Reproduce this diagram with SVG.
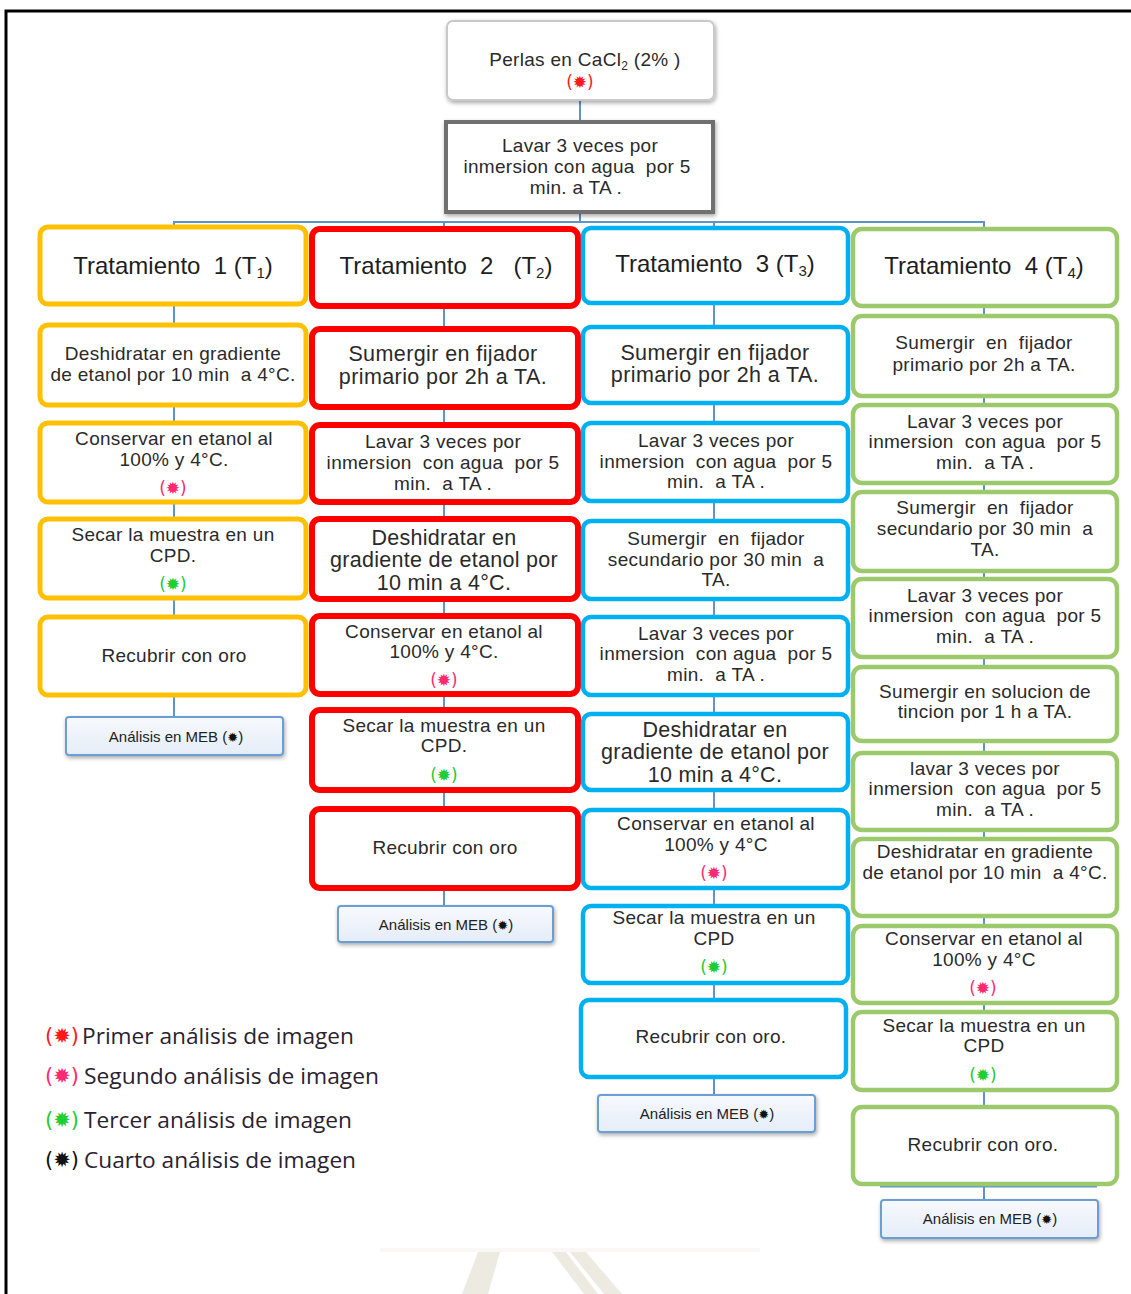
<svg xmlns="http://www.w3.org/2000/svg" width="1131" height="1294" viewBox="0 0 1131 1294">
<defs>
<filter id="sh" x="-10%" y="-10%" width="125%" height="140%">
<feGaussianBlur in="SourceAlpha" stdDeviation="2"/>
<feOffset dx="1" dy="2" result="b"/>
<feComponentTransfer><feFuncA type="linear" slope="0.35"/></feComponentTransfer>
<feMerge><feMergeNode/><feMergeNode in="SourceGraphic"/></feMerge>
</filter>
<linearGradient id="meb" x1="0" y1="0" x2="0" y2="1">
<stop offset="0" stop-color="#f7f9fd"/>
<stop offset="1" stop-color="#e5edf8"/>
</linearGradient>
</defs>
<style>
text{font-family:"Liberation Sans",Arial,sans-serif;fill:#2a2a2a;text-anchor:middle;white-space:pre}
.f18{font-size:19px;letter-spacing:0.3px}
.f21{font-size:21.5px;letter-spacing:0.4px}
.f22{font-size:21.5px;letter-spacing:0.3px}
.tt{font-size:24px;fill:#1e1e1e}
.meb{font-size:15px;fill:#222}
.ast{font-size:17px;font-family:"DejaVu Sans",sans-serif}
.r{fill:#ff1a1a}.p{fill:#ff2a70}.g{fill:#22cc33}.k{fill:#111}
.lg{font-family:"Open Sans","DejaVu Sans",sans-serif;font-size:21px;text-anchor:start;fill:#2a2230}
.la{font-family:"DejaVu Sans",sans-serif;font-size:21px;text-anchor:start}
.c1{fill:#fff;stroke:#ffc000;stroke-width:5}
.c2{fill:#fff;stroke:#ff0000;stroke-width:6}
.c3{fill:#fff;stroke:#00b0f0;stroke-width:4.5}
.c4{fill:#fff;stroke:#9dc96d;stroke-width:4.5}
.mb{fill:url(#meb);stroke:#6b9fd6;stroke-width:2}
.cn{fill:none;stroke:#5f93c9;stroke-width:2}
</style>
<rect width="1131" height="1294" fill="#fff"/>
<path d="M6,1294 V11 H1131" fill="none" stroke="#000" stroke-width="3"/>
<g opacity="0.5">
<rect x="380" y="1248" width="380" height="4" fill="#f4f3ef"/>
<polygon points="478,1252 500,1252 488,1294 462,1294" fill="#dcd6c4"/>
<polygon points="552,1252 566,1252 598,1294 584,1294" fill="#dcd6c4"/>
<polygon points="570,1252 586,1252 622,1294 604,1294" fill="#dcd6c4"/>
</g>
<g id="connectors" class="cn">
<path d="M580,100 V222"/>
<path d="M173,222 H985"/>
<path d="M174,222 V717"/>
<path d="M444,222 V906"/>
<path d="M714,222 V1095"/>
<path d="M984,222 V1200"/>
<path d="M880,1186 H1097" stroke-width="3"/>
</g>
<g id="perlas">
<rect x="447" y="21" width="267" height="79" rx="6" fill="#fff" stroke="#c9c9c9" stroke-width="2" filter="url(#sh)"/>
<text class="f18" x="585" y="66">Perlas en CaCl<tspan font-size="12" dy="4">2</tspan><tspan dy="-4"> (2% )</tspan></text>
<text class="ast r" x="580" y="88">(✹)</text>
</g>
<g id="lavar0">
<rect x="446" y="122" width="267" height="90" fill="#fff" stroke="#707070" stroke-width="4" filter="url(#sh)"/>
<text class="f18" x="580" y="152">Lavar 3 veces por</text>
<text class="f18" x="577" y="173">inmersion con agua  por 5</text>
<text class="f18" x="576" y="194">min. a TA .</text>
</g>
<g id="t1">
<rect class="c1" x="40" y="227" width="266" height="77" rx="8"/>
<text class="tt" x="173" y="274">Tratamiento  1 (T<tspan font-size="15" dy="4">1</tspan><tspan dy="-4">)</tspan></text>
</g>
<g id="t1a">
<rect class="c1" x="40" y="325" width="266" height="80" rx="8"/>
<text class="f18" x="173" y="360">Deshidratar en gradiente</text>
<text class="f18" x="173" y="381">de etanol por 10 min  a 4°C.</text>
</g>
<g id="t1b">
<rect class="c1" x="40" y="423" width="266" height="79" rx="8"/>
<text class="f18" x="174" y="445">Conservar en etanol al</text>
<text class="f18" x="174" y="466">100% y 4°C.</text>
<text class="ast p" x="173" y="494">(✹)</text>
</g>
<g id="t1c">
<rect class="c1" x="40" y="519" width="266" height="79" rx="8"/>
<text class="f18" x="173" y="541">Secar la muestra en un</text>
<text class="f18" x="173" y="562">CPD.</text>
<text class="ast g" x="173" y="590">(✹)</text>
</g>
<g id="t1d">
<rect class="c1" x="40" y="617" width="266" height="78" rx="8"/>
<text class="f18" x="174" y="662">Recubrir con oro</text>
</g>
<g id="t1m">
<rect class="mb" x="66" y="717" width="217" height="38" rx="3" filter="url(#sh)"/>
<text class="meb" x="176" y="742">Análisis en MEB (<tspan class="k" font-family="DejaVu Sans" font-size="13">✹</tspan>)</text>
</g>
<g id="t2">
<rect class="c2" x="312" y="229" width="266" height="77" rx="8"/>
<text class="tt" x="446" y="274">Tratamiento  2   (T<tspan font-size="15" dy="4">2</tspan><tspan dy="-4">)</tspan></text>
</g>
<g id="t2a">
<rect class="c2" x="312" y="329" width="266" height="78" rx="8"/>
<text class="f21" x="443" y="361">Sumergir en fijador</text>
<text class="f21" x="443" y="384">primario por 2h a TA.</text>
</g>
<g id="t2b">
<rect class="c2" x="312" y="425" width="266" height="77" rx="8"/>
<text class="f18" x="443" y="448">Lavar 3 veces por</text>
<text class="f18" x="443" y="469">inmersion  con agua  por 5</text>
<text class="f18" x="443" y="490">min.  a TA .</text>
</g>
<g id="t2c">
<rect class="c2" x="312" y="519" width="266" height="80" rx="8"/>
<text class="f22" x="444" y="545">Deshidratar en</text>
<text class="f22" x="444" y="567">gradiente de etanol por</text>
<text class="f22" x="444" y="590">10 min a 4°C.</text>
</g>
<g id="t2d">
<rect class="c2" x="312" y="616" width="266" height="78" rx="8"/>
<text class="f18" x="444" y="638">Conservar en etanol al</text>
<text class="f18" x="444" y="658">100% y 4°C.</text>
<text class="ast p" x="444" y="686">(✹)</text>
</g>
<g id="t2e">
<rect class="c2" x="312" y="710" width="266" height="80" rx="8"/>
<text class="f18" x="444" y="732">Secar la muestra en un</text>
<text class="f18" x="444" y="752">CPD.</text>
<text class="ast g" x="444" y="781">(✹)</text>
</g>
<g id="t2f">
<rect class="c2" x="312" y="809" width="266" height="79" rx="8"/>
<text class="f18" x="445" y="854">Recubrir con oro</text>
</g>
<g id="t2m">
<rect class="mb" x="338" y="906" width="215" height="36" rx="3" filter="url(#sh)"/>
<text class="meb" x="446" y="930">Análisis en MEB (<tspan class="k" font-family="DejaVu Sans" font-size="13">✹</tspan>)</text>
</g>
<g id="t3">
<rect class="c3" x="583" y="228" width="265" height="75" rx="8"/>
<text class="tt" x="715" y="272">Tratamiento  3 (T<tspan font-size="15" dy="4">3</tspan><tspan dy="-4">)</tspan></text>
</g>
<g id="t3a">
<rect class="c3" x="583" y="327" width="265" height="76" rx="8"/>
<text class="f21" x="715" y="360">Sumergir en fijador</text>
<text class="f21" x="715" y="382">primario por 2h a TA.</text>
</g>
<g id="t3b">
<rect class="c3" x="583" y="423" width="265" height="78" rx="8"/>
<text class="f18" x="716" y="447">Lavar 3 veces por</text>
<text class="f18" x="716" y="468">inmersion  con agua  por 5</text>
<text class="f18" x="716" y="488">min.  a TA .</text>
</g>
<g id="t3c">
<rect class="c3" x="583" y="521" width="265" height="78" rx="8"/>
<text class="f18" x="716" y="545">Sumergir  en  fijador</text>
<text class="f18" x="716" y="566">secundario por 30 min  a</text>
<text class="f18" x="716" y="586">TA.</text>
</g>
<g id="t3d">
<rect class="c3" x="583" y="617" width="265" height="78" rx="8"/>
<text class="f18" x="716" y="640">Lavar 3 veces por</text>
<text class="f18" x="716" y="660">inmersion  con agua  por 5</text>
<text class="f18" x="716" y="681">min.  a TA .</text>
</g>
<g id="t3e">
<rect class="c3" x="583" y="714" width="265" height="76" rx="8"/>
<text class="f22" x="715" y="737">Deshidratar en</text>
<text class="f22" x="715" y="759">gradiente de etanol por</text>
<text class="f22" x="715" y="782">10 min a 4°C.</text>
</g>
<g id="t3f">
<rect class="c3" x="583" y="810" width="265" height="78" rx="8"/>
<text class="f18" x="716" y="830">Conservar en etanol al</text>
<text class="f18" x="716" y="851">100% y 4°C</text>
<text class="ast p" x="714" y="879">(✹)</text>
</g>
<g id="t3g">
<rect class="c3" x="583" y="906" width="265" height="77" rx="8"/>
<text class="f18" x="714" y="924">Secar la muestra en un</text>
<text class="f18" x="714" y="945">CPD</text>
<text class="ast g" x="714" y="973">(✹)</text>
</g>
<g id="t3h">
<rect class="c3" x="581" y="1000" width="265" height="77" rx="8"/>
<text class="f18" x="711" y="1043">Recubrir con oro.</text>
</g>
<g id="t3m">
<rect class="mb" x="598" y="1095" width="217" height="37" rx="3" filter="url(#sh)"/>
<text class="meb" x="707" y="1119">Análisis en MEB (<tspan class="k" font-family="DejaVu Sans" font-size="13">✹</tspan>)</text>
</g>
<g id="t4">
<rect class="c4" x="853" y="229" width="264" height="77" rx="9"/>
<text class="tt" x="984" y="274">Tratamiento  4 (T<tspan font-size="15" dy="4">4</tspan><tspan dy="-4">)</tspan></text>
</g>
<g id="t4a">
<rect class="c4" x="853" y="316" width="264" height="80" rx="9"/>
<text class="f18" x="984" y="349">Sumergir  en  fijador</text>
<text class="f18" x="984" y="371">primario por 2h a TA.</text>
</g>
<g id="t4b">
<rect class="c4" x="853" y="405" width="264" height="78" rx="9"/>
<text class="f18" x="985" y="428">Lavar 3 veces por</text>
<text class="f18" x="985" y="448">inmersion  con agua  por 5</text>
<text class="f18" x="985" y="469">min.  a TA .</text>
</g>
<g id="t4c">
<rect class="c4" x="853" y="492" width="264" height="79" rx="9"/>
<text class="f18" x="985" y="514">Sumergir  en  fijador</text>
<text class="f18" x="985" y="535">secundario por 30 min  a</text>
<text class="f18" x="985" y="556">TA.</text>
</g>
<g id="t4d">
<rect class="c4" x="853" y="579" width="264" height="78" rx="9"/>
<text class="f18" x="985" y="602">Lavar 3 veces por</text>
<text class="f18" x="985" y="622">inmersion  con agua  por 5</text>
<text class="f18" x="985" y="643">min.  a TA .</text>
</g>
<g id="t4e">
<rect class="c4" x="853" y="667" width="264" height="74" rx="9"/>
<text class="f18" x="985" y="698">Sumergir en solucion de</text>
<text class="f18" x="985" y="718">tincion por 1 h a TA.</text>
</g>
<g id="t4f">
<rect class="c4" x="853" y="753" width="264" height="77" rx="9"/>
<text class="f18" x="985" y="775">lavar 3 veces por</text>
<text class="f18" x="985" y="795">inmersion  con agua  por 5</text>
<text class="f18" x="985" y="816">min.  a TA .</text>
</g>
<g id="t4g">
<rect class="c4" x="853" y="839" width="264" height="77" rx="9"/>
<text class="f18" x="985" y="858">Deshidratar en gradiente</text>
<text class="f18" x="985" y="879">de etanol por 10 min  a 4°C.</text>
</g>
<g id="t4h">
<rect class="c4" x="853" y="926" width="264" height="77" rx="9"/>
<text class="f18" x="984" y="945">Conservar en etanol al</text>
<text class="f18" x="984" y="966">100% y 4°C</text>
<text class="ast p" x="983" y="994">(✹)</text>
</g>
<g id="t4i">
<rect class="c4" x="853" y="1012" width="264" height="78" rx="9"/>
<text class="f18" x="984" y="1032">Secar la muestra en un</text>
<text class="f18" x="984" y="1052">CPD</text>
<text class="ast g" x="983" y="1081">(✹)</text>
</g>
<g id="t4j">
<rect class="c4" x="853" y="1107" width="264" height="77" rx="9"/>
<text class="f18" x="983" y="1151">Recubrir con oro.</text>
</g>
<g id="t4m">
<rect class="mb" x="881" y="1200" width="217" height="38" rx="3" filter="url(#sh)"/>
<text class="meb" x="990" y="1224">Análisis en MEB (<tspan class="k" font-family="DejaVu Sans" font-size="13">✹</tspan>)</text>
</g>
<g id="legend">
<text class="la r" x="45" y="1043">(✹)</text>
<text class="lg" x="82" y="1044" textLength="272" lengthAdjust="spacingAndGlyphs">Primer análisis de imagen</text>
<text class="la p" x="45" y="1083">(✹)</text>
<text class="lg" x="84" y="1084" textLength="295" lengthAdjust="spacingAndGlyphs">Segundo análisis de imagen</text>
<text class="la g" x="45" y="1127">(✹)</text>
<text class="lg" x="84" y="1128" textLength="268" lengthAdjust="spacingAndGlyphs">Tercer análisis de imagen</text>
<text class="la k" x="45" y="1167">(✹)</text>
<text class="lg" x="84" y="1168" textLength="272" lengthAdjust="spacingAndGlyphs">Cuarto análisis de imagen</text>
</g>
</svg>
